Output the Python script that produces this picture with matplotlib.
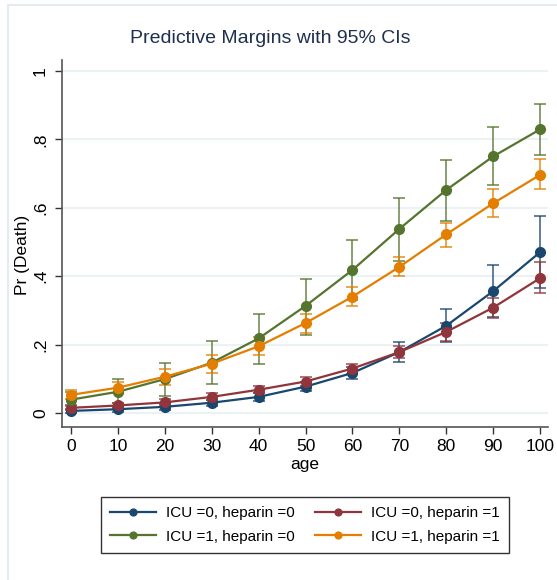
import numpy as np
import matplotlib
matplotlib.use("Agg")
import matplotlib.pyplot as plt
from matplotlib.patches import Rectangle

plt.rcParams['font.family'] = ['Liberation Sans', 'DejaVu Sans']

age = [0, 10, 20, 30, 40, 50, 60, 70, 80, 90, 100]

labels = ["ICU =0, heparin =0", "ICU =0, heparin =1",
          "ICU =1, heparin =0", "ICU =1, heparin =1"]
colors = ["#1a476f", "#90353b", "#55752f", "#e37e00"]

# margins
m00 = [0.006, 0.011, 0.018, 0.030, 0.047, 0.077, 0.117, 0.178, 0.255, 0.356, 0.470]
m01 = [0.015, 0.022, 0.031, 0.047, 0.068, 0.092, 0.130, 0.178, 0.237, 0.308, 0.394]
m10 = [0.039, 0.062, 0.099, 0.147, 0.218, 0.313, 0.418, 0.538, 0.652, 0.750, 0.829]
m11 = [0.053, 0.074, 0.106, 0.144, 0.195, 0.263, 0.340, 0.427, 0.522, 0.613, 0.696]

# 95% CI lower / upper
lo00 = [0.000, 0.004, 0.010, 0.021, 0.036, 0.065, 0.100, 0.148, 0.207, 0.280, 0.365]
hi00 = [0.012, 0.018, 0.026, 0.039, 0.058, 0.090, 0.133, 0.208, 0.305, 0.433, 0.577]
lo01 = [0.008, 0.014, 0.022, 0.037, 0.057, 0.080, 0.115, 0.160, 0.210, 0.277, 0.350]
hi01 = [0.022, 0.030, 0.040, 0.057, 0.079, 0.104, 0.142, 0.196, 0.262, 0.337, 0.442]
lo10 = [0.020, 0.030, 0.050, 0.085, 0.142, 0.228, 0.330, 0.445, 0.560, 0.667, 0.755]
hi10 = [0.060, 0.100, 0.147, 0.211, 0.290, 0.392, 0.505, 0.628, 0.740, 0.835, 0.903]
lo11 = [0.040, 0.058, 0.082, 0.118, 0.170, 0.235, 0.313, 0.400, 0.486, 0.572, 0.654]
hi11 = [0.068, 0.092, 0.130, 0.170, 0.222, 0.290, 0.367, 0.457, 0.556, 0.655, 0.743]

series = [(m00, lo00, hi00), (m01, lo01, hi01), (m10, lo10, hi10), (m11, lo11, hi11)]

fig = plt.figure(figsize=(5.57, 5.8), dpi=100)
# light outer frame (graph region edge)
fig.patches.append(Rectangle((8 / 557, -0.1), 1.2, 1.1 - 5 / 580,
                             transform=fig.transFigure, fill=False,
                             edgecolor="#e3ecef", linewidth=1.5))
ax = fig.add_axes([62 / 557, 153 / 580, 486 / 557, 367 / 580])

handles = []
for (m, lo, hi), c, lab in zip(series, colors, labels):
    m = np.array(m)
    err = [m - np.array(lo), np.array(hi) - m]
    ax.errorbar(age, m, yerr=err, fmt="none", ecolor=c, elinewidth=1.3,
                capsize=4, capthick=1.3, alpha=0.75, zorder=2)
    h, = ax.plot(age, m, color=c, lw=1.6, marker="o", ms=7, zorder=3, label=lab)
    handles.append(h)

ax.set_xlim(-1.92, 101.7)
ax.set_ylim(-0.041, 1.032)
ax.set_xticks(age)
ax.set_yticks([0, 0.2, 0.4, 0.6, 0.8, 1.0])
ax.set_yticklabels(["0", ".2", ".4", ".6", ".8", "1"], rotation=90, va="center")
ax.tick_params(axis="both", labelsize=12.5, length=5, width=1, color="#333333", direction="out")
ax.tick_params(axis="y", pad=5)
for s in ["top", "right"]:
    ax.spines[s].set_visible(False)
for s in ["left", "bottom"]:
    ax.spines[s].set_color("#555555")
    ax.spines[s].set_linewidth(1.2)
ax.yaxis.grid(True, color="#eaf2f3", lw=1.5)
ax.set_axisbelow(True)

ax.set_xlabel("age", fontsize=12.5, labelpad=2)
ax.set_ylabel("Pr (Death)", fontsize=12.5)
ax.yaxis.set_label_coords(-32 / 486, 0.47)
fig.suptitle("Predictive Margins with 95% CIs", x=270 / 557, y=0.948, fontsize=14, color="#1e2f4f")

# legend is filled column-wise, so order handles to give rows 00|01 and 10|11
leg = fig.legend(handles=[handles[0], handles[2], handles[1], handles[3]],
                 loc="center", bbox_to_anchor=(305 / 557, 1 - 525 / 580), ncol=2,
                 fontsize=11, frameon=True, fancybox=False, edgecolor="black",
                 handlelength=3.0, markerscale=0.7, columnspacing=1.3,
                 handletextpad=0.7, borderpad=0.6, labelspacing=0.6)
leg.get_frame().set_linewidth(1.0)

fig.savefig("out.png", dpi=100)
